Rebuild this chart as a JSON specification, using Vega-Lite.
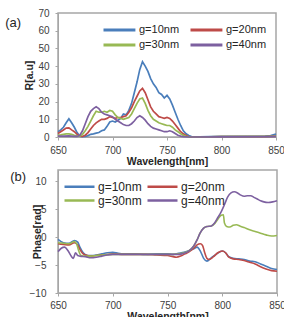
{
  "$schema": "https://vega.github.io/schema/vega-lite/v6.json",
  "background": "white",
  "padding": {"left": 4, "top": 7, "right": 0, "bottom": 0},
  "spacing": 1,
  "config": {
    "font": "Liberation Sans",
    "view": {"stroke": "#a6a6a6", "strokeWidth": 1.5},
    "axis": {
      "grid": false,
      "labelFont": "Liberation Sans",
      "labelFontSize": 10,
      "labelColor": "#404040",
      "titleFont": "Liberation Sans",
      "titleFontSize": 10.5,
      "titleFontWeight": "bold",
      "titleColor": "#262626",
      "domainColor": "#a6a6a6",
      "tickColor": "#a6a6a6",
      "tickSize": 3
    },
    "legend": {
      "labelFont": "Liberation Sans",
      "labelColor": "#262626",
      "direction": "horizontal",
      "padding": 0
    },
    "title": {"font": "Liberation Sans", "fontSize": 13, "fontWeight": "normal", "color": "#262626"}
  },
  "datasets": {
    "refl": [
      {"w": 650, "g": "g=10nm", "v": 3}, {"w": 652.5, "g": "g=10nm", "v": 4}, {"w": 655, "g": "g=10nm", "v": 5.5}, {"w": 657.5, "g": "g=10nm", "v": 8}, {"w": 660, "g": "g=10nm", "v": 10.3}, {"w": 662.5, "g": "g=10nm", "v": 8}, {"w": 665, "g": "g=10nm", "v": 5.5}, {"w": 667.5, "g": "g=10nm", "v": 2.5}, {"w": 670, "g": "g=10nm", "v": 0.5}, {"w": 672.5, "g": "g=10nm", "v": 0.2}, {"w": 675, "g": "g=10nm", "v": 0.3}, {"w": 677.5, "g": "g=10nm", "v": 0.8}, {"w": 680, "g": "g=10nm", "v": 1.5}, {"w": 682.5, "g": "g=10nm", "v": 1.8}, {"w": 685, "g": "g=10nm", "v": 2.2}, {"w": 687.5, "g": "g=10nm", "v": 2.5}, {"w": 690, "g": "g=10nm", "v": 3.5}, {"w": 692.5, "g": "g=10nm", "v": 4}, {"w": 695, "g": "g=10nm", "v": 6}, {"w": 697.5, "g": "g=10nm", "v": 8.5}, {"w": 700, "g": "g=10nm", "v": 9}, {"w": 702.5, "g": "g=10nm", "v": 8.5}, {"w": 705, "g": "g=10nm", "v": 9.5}, {"w": 707.5, "g": "g=10nm", "v": 10.5}, {"w": 710, "g": "g=10nm", "v": 13}, {"w": 712.5, "g": "g=10nm", "v": 12.5}, {"w": 715, "g": "g=10nm", "v": 15}, {"w": 717.5, "g": "g=10nm", "v": 19}, {"w": 720, "g": "g=10nm", "v": 25}, {"w": 722.5, "g": "g=10nm", "v": 31}, {"w": 725, "g": "g=10nm", "v": 38}, {"w": 727.5, "g": "g=10nm", "v": 42.5}, {"w": 730, "g": "g=10nm", "v": 40}, {"w": 732.5, "g": "g=10nm", "v": 37}, {"w": 735, "g": "g=10nm", "v": 33}, {"w": 737.5, "g": "g=10nm", "v": 30}, {"w": 740, "g": "g=10nm", "v": 28}, {"w": 742.5, "g": "g=10nm", "v": 25}, {"w": 745, "g": "g=10nm", "v": 24}, {"w": 747.5, "g": "g=10nm", "v": 22}, {"w": 750, "g": "g=10nm", "v": 23.5}, {"w": 752.5, "g": "g=10nm", "v": 21.5}, {"w": 755, "g": "g=10nm", "v": 18}, {"w": 757.5, "g": "g=10nm", "v": 14}, {"w": 760, "g": "g=10nm", "v": 10}, {"w": 762.5, "g": "g=10nm", "v": 6.5}, {"w": 765, "g": "g=10nm", "v": 3.5}, {"w": 767.5, "g": "g=10nm", "v": 1.8}, {"w": 770, "g": "g=10nm", "v": 0.8}, {"w": 772.5, "g": "g=10nm", "v": 0.3}, {"w": 775, "g": "g=10nm", "v": 0.1}, {"w": 780, "g": "g=10nm", "v": 0.1}, {"w": 800, "g": "g=10nm", "v": 0.4}, {"w": 820, "g": "g=10nm", "v": 0.3}, {"w": 840, "g": "g=10nm", "v": 0.5}, {"w": 845, "g": "g=10nm", "v": 0.8}, {"w": 850, "g": "g=10nm", "v": 1.6},
      {"w": 650, "g": "g=20nm", "v": 2}, {"w": 652.5, "g": "g=20nm", "v": 3}, {"w": 655, "g": "g=20nm", "v": 4}, {"w": 657.5, "g": "g=20nm", "v": 5}, {"w": 660, "g": "g=20nm", "v": 5.2}, {"w": 662.5, "g": "g=20nm", "v": 4}, {"w": 665, "g": "g=20nm", "v": 3}, {"w": 667.5, "g": "g=20nm", "v": 1.5}, {"w": 670, "g": "g=20nm", "v": 0.5}, {"w": 672.5, "g": "g=20nm", "v": 0.3}, {"w": 675, "g": "g=20nm", "v": 1}, {"w": 677.5, "g": "g=20nm", "v": 2.5}, {"w": 680, "g": "g=20nm", "v": 4.5}, {"w": 682.5, "g": "g=20nm", "v": 6.5}, {"w": 685, "g": "g=20nm", "v": 8}, {"w": 687.5, "g": "g=20nm", "v": 9}, {"w": 690, "g": "g=20nm", "v": 10}, {"w": 692.5, "g": "g=20nm", "v": 10}, {"w": 695, "g": "g=20nm", "v": 10.5}, {"w": 697.5, "g": "g=20nm", "v": 11.5}, {"w": 700, "g": "g=20nm", "v": 11}, {"w": 702.5, "g": "g=20nm", "v": 10.5}, {"w": 705, "g": "g=20nm", "v": 11}, {"w": 707.5, "g": "g=20nm", "v": 11}, {"w": 710, "g": "g=20nm", "v": 11.5}, {"w": 712.5, "g": "g=20nm", "v": 12}, {"w": 715, "g": "g=20nm", "v": 14}, {"w": 717.5, "g": "g=20nm", "v": 16.5}, {"w": 720, "g": "g=20nm", "v": 20}, {"w": 722.5, "g": "g=20nm", "v": 23}, {"w": 725, "g": "g=20nm", "v": 26}, {"w": 727.5, "g": "g=20nm", "v": 27.5}, {"w": 730, "g": "g=20nm", "v": 25}, {"w": 732.5, "g": "g=20nm", "v": 21}, {"w": 735, "g": "g=20nm", "v": 17}, {"w": 737.5, "g": "g=20nm", "v": 14.5}, {"w": 740, "g": "g=20nm", "v": 13}, {"w": 742.5, "g": "g=20nm", "v": 11.5}, {"w": 745, "g": "g=20nm", "v": 11}, {"w": 747.5, "g": "g=20nm", "v": 10.5}, {"w": 750, "g": "g=20nm", "v": 11}, {"w": 752.5, "g": "g=20nm", "v": 10.5}, {"w": 755, "g": "g=20nm", "v": 9}, {"w": 757.5, "g": "g=20nm", "v": 7}, {"w": 760, "g": "g=20nm", "v": 5}, {"w": 762.5, "g": "g=20nm", "v": 3}, {"w": 765, "g": "g=20nm", "v": 1.8}, {"w": 767.5, "g": "g=20nm", "v": 0.8}, {"w": 770, "g": "g=20nm", "v": 0.3}, {"w": 772.5, "g": "g=20nm", "v": 0.1}, {"w": 775, "g": "g=20nm", "v": 0}, {"w": 780, "g": "g=20nm", "v": 0}, {"w": 800, "g": "g=20nm", "v": 0.2}, {"w": 820, "g": "g=20nm", "v": 0.2}, {"w": 840, "g": "g=20nm", "v": 0.2}, {"w": 850, "g": "g=20nm", "v": 0.5},
      {"w": 650, "g": "g=30nm", "v": 1}, {"w": 652.5, "g": "g=30nm", "v": 1.2}, {"w": 655, "g": "g=30nm", "v": 1.5}, {"w": 657.5, "g": "g=30nm", "v": 1.8}, {"w": 660, "g": "g=30nm", "v": 1.8}, {"w": 662.5, "g": "g=30nm", "v": 1.5}, {"w": 665, "g": "g=30nm", "v": 1}, {"w": 667.5, "g": "g=30nm", "v": 0.6}, {"w": 670, "g": "g=30nm", "v": 0.5}, {"w": 672.5, "g": "g=30nm", "v": 1.5}, {"w": 675, "g": "g=30nm", "v": 3.5}, {"w": 677.5, "g": "g=30nm", "v": 6}, {"w": 680, "g": "g=30nm", "v": 9}, {"w": 682.5, "g": "g=30nm", "v": 12}, {"w": 685, "g": "g=30nm", "v": 14.5}, {"w": 687.5, "g": "g=30nm", "v": 14}, {"w": 690, "g": "g=30nm", "v": 14}, {"w": 692.5, "g": "g=30nm", "v": 14.5}, {"w": 695, "g": "g=30nm", "v": 14}, {"w": 697.5, "g": "g=30nm", "v": 15}, {"w": 700, "g": "g=30nm", "v": 14.5}, {"w": 702.5, "g": "g=30nm", "v": 12.5}, {"w": 705, "g": "g=30nm", "v": 11}, {"w": 707.5, "g": "g=30nm", "v": 10.5}, {"w": 710, "g": "g=30nm", "v": 10}, {"w": 712.5, "g": "g=30nm", "v": 10.5}, {"w": 715, "g": "g=30nm", "v": 11}, {"w": 717.5, "g": "g=30nm", "v": 13}, {"w": 720, "g": "g=30nm", "v": 16}, {"w": 722.5, "g": "g=30nm", "v": 19}, {"w": 725, "g": "g=30nm", "v": 21.5}, {"w": 727.5, "g": "g=30nm", "v": 22}, {"w": 730, "g": "g=30nm", "v": 19}, {"w": 732.5, "g": "g=30nm", "v": 15}, {"w": 735, "g": "g=30nm", "v": 12}, {"w": 737.5, "g": "g=30nm", "v": 10}, {"w": 740, "g": "g=30nm", "v": 9}, {"w": 742.5, "g": "g=30nm", "v": 8}, {"w": 745, "g": "g=30nm", "v": 7.5}, {"w": 747.5, "g": "g=30nm", "v": 7}, {"w": 750, "g": "g=30nm", "v": 6.5}, {"w": 752.5, "g": "g=30nm", "v": 6.5}, {"w": 755, "g": "g=30nm", "v": 5.5}, {"w": 757.5, "g": "g=30nm", "v": 4}, {"w": 760, "g": "g=30nm", "v": 3}, {"w": 762.5, "g": "g=30nm", "v": 1.8}, {"w": 765, "g": "g=30nm", "v": 1}, {"w": 767.5, "g": "g=30nm", "v": 0.4}, {"w": 770, "g": "g=30nm", "v": 0.1}, {"w": 775, "g": "g=30nm", "v": 0}, {"w": 800, "g": "g=30nm", "v": 0.2}, {"w": 850, "g": "g=30nm", "v": 0.3},
      {"w": 650, "g": "g=40nm", "v": 0.5}, {"w": 655, "g": "g=40nm", "v": 0.5}, {"w": 660, "g": "g=40nm", "v": 0.6}, {"w": 665, "g": "g=40nm", "v": 0.3}, {"w": 667.5, "g": "g=40nm", "v": 0.3}, {"w": 670, "g": "g=40nm", "v": 1}, {"w": 672.5, "g": "g=40nm", "v": 3.5}, {"w": 675, "g": "g=40nm", "v": 7.5}, {"w": 677.5, "g": "g=40nm", "v": 11.5}, {"w": 680, "g": "g=40nm", "v": 14.5}, {"w": 682.5, "g": "g=40nm", "v": 16}, {"w": 685, "g": "g=40nm", "v": 17}, {"w": 687.5, "g": "g=40nm", "v": 16}, {"w": 690, "g": "g=40nm", "v": 14}, {"w": 692.5, "g": "g=40nm", "v": 13}, {"w": 695, "g": "g=40nm", "v": 12.5}, {"w": 697.5, "g": "g=40nm", "v": 12}, {"w": 700, "g": "g=40nm", "v": 11.5}, {"w": 702.5, "g": "g=40nm", "v": 10}, {"w": 705, "g": "g=40nm", "v": 9}, {"w": 707.5, "g": "g=40nm", "v": 8}, {"w": 710, "g": "g=40nm", "v": 7}, {"w": 712.5, "g": "g=40nm", "v": 6.5}, {"w": 715, "g": "g=40nm", "v": 6.5}, {"w": 717.5, "g": "g=40nm", "v": 7.5}, {"w": 720, "g": "g=40nm", "v": 9}, {"w": 722.5, "g": "g=40nm", "v": 11}, {"w": 725, "g": "g=40nm", "v": 12}, {"w": 727.5, "g": "g=40nm", "v": 11}, {"w": 730, "g": "g=40nm", "v": 9.5}, {"w": 732.5, "g": "g=40nm", "v": 7.5}, {"w": 735, "g": "g=40nm", "v": 6}, {"w": 737.5, "g": "g=40nm", "v": 5}, {"w": 740, "g": "g=40nm", "v": 4.5}, {"w": 742.5, "g": "g=40nm", "v": 4}, {"w": 745, "g": "g=40nm", "v": 3.5}, {"w": 747.5, "g": "g=40nm", "v": 3}, {"w": 750, "g": "g=40nm", "v": 3}, {"w": 752.5, "g": "g=40nm", "v": 3.5}, {"w": 755, "g": "g=40nm", "v": 3}, {"w": 757.5, "g": "g=40nm", "v": 2}, {"w": 760, "g": "g=40nm", "v": 1}, {"w": 762.5, "g": "g=40nm", "v": 0.5}, {"w": 765, "g": "g=40nm", "v": 0.2}, {"w": 770, "g": "g=40nm", "v": 0}, {"w": 800, "g": "g=40nm", "v": 0.1}, {"w": 850, "g": "g=40nm", "v": 0.2}
    ],
    "phase": [
      {"w": 650, "g": "g=10nm", "v": -0.4}, {"w": 655, "g": "g=10nm", "v": -1.0}, {"w": 660, "g": "g=10nm", "v": -1.1}, {"w": 665, "g": "g=10nm", "v": -0.6}, {"w": 668, "g": "g=10nm", "v": -0.9}, {"w": 670, "g": "g=10nm", "v": -1.8}, {"w": 673, "g": "g=10nm", "v": -2.8}, {"w": 677, "g": "g=10nm", "v": -3.3}, {"w": 680, "g": "g=10nm", "v": -3.3}, {"w": 685, "g": "g=10nm", "v": -3.2}, {"w": 690, "g": "g=10nm", "v": -3.0}, {"w": 695, "g": "g=10nm", "v": -2.8}, {"w": 700, "g": "g=10nm", "v": -2.7}, {"w": 705, "g": "g=10nm", "v": -2.9}, {"w": 710, "g": "g=10nm", "v": -3.0}, {"w": 720, "g": "g=10nm", "v": -3.0}, {"w": 730, "g": "g=10nm", "v": -3.1}, {"w": 740, "g": "g=10nm", "v": -3.0}, {"w": 750, "g": "g=10nm", "v": -3.0}, {"w": 755, "g": "g=10nm", "v": -3.1}, {"w": 760, "g": "g=10nm", "v": -2.9}, {"w": 765, "g": "g=10nm", "v": -2.7}, {"w": 770, "g": "g=10nm", "v": -2.4}, {"w": 774, "g": "g=10nm", "v": -2.1}, {"w": 777, "g": "g=10nm", "v": -1.8}, {"w": 780, "g": "g=10nm", "v": -2.5}, {"w": 783, "g": "g=10nm", "v": -3.8}, {"w": 786, "g": "g=10nm", "v": -4.3}, {"w": 790, "g": "g=10nm", "v": -3.7}, {"w": 795, "g": "g=10nm", "v": -3.0}, {"w": 800, "g": "g=10nm", "v": -2.5}, {"w": 803, "g": "g=10nm", "v": -2.8}, {"w": 806, "g": "g=10nm", "v": -3.5}, {"w": 810, "g": "g=10nm", "v": -3.8}, {"w": 815, "g": "g=10nm", "v": -3.9}, {"w": 820, "g": "g=10nm", "v": -4.0}, {"w": 825, "g": "g=10nm", "v": -4.3}, {"w": 830, "g": "g=10nm", "v": -4.4}, {"w": 835, "g": "g=10nm", "v": -4.8}, {"w": 840, "g": "g=10nm", "v": -5.2}, {"w": 845, "g": "g=10nm", "v": -5.6}, {"w": 850, "g": "g=10nm", "v": -5.8},
      {"w": 650, "g": "g=20nm", "v": -1.2}, {"w": 655, "g": "g=20nm", "v": -1.3}, {"w": 660, "g": "g=20nm", "v": -1.4}, {"w": 665, "g": "g=20nm", "v": -1.0}, {"w": 668, "g": "g=20nm", "v": -1.4}, {"w": 670, "g": "g=20nm", "v": -2.2}, {"w": 673, "g": "g=20nm", "v": -3.0}, {"w": 677, "g": "g=20nm", "v": -3.3}, {"w": 680, "g": "g=20nm", "v": -3.4}, {"w": 685, "g": "g=20nm", "v": -3.3}, {"w": 690, "g": "g=20nm", "v": -3.2}, {"w": 695, "g": "g=20nm", "v": -3.1}, {"w": 700, "g": "g=20nm", "v": -3.0}, {"w": 710, "g": "g=20nm", "v": -3.1}, {"w": 720, "g": "g=20nm", "v": -3.1}, {"w": 730, "g": "g=20nm", "v": -3.1}, {"w": 740, "g": "g=20nm", "v": -3.2}, {"w": 750, "g": "g=20nm", "v": -3.3}, {"w": 755, "g": "g=20nm", "v": -3.5}, {"w": 758, "g": "g=20nm", "v": -3.6}, {"w": 762, "g": "g=20nm", "v": -3.4}, {"w": 766, "g": "g=20nm", "v": -3.0}, {"w": 770, "g": "g=20nm", "v": -2.6}, {"w": 774, "g": "g=20nm", "v": -2.0}, {"w": 777, "g": "g=20nm", "v": -1.4}, {"w": 780, "g": "g=20nm", "v": -1.2}, {"w": 782, "g": "g=20nm", "v": -1.5}, {"w": 784, "g": "g=20nm", "v": -2.8}, {"w": 786, "g": "g=20nm", "v": -3.8}, {"w": 788, "g": "g=20nm", "v": -4.0}, {"w": 792, "g": "g=20nm", "v": -3.5}, {"w": 796, "g": "g=20nm", "v": -2.8}, {"w": 800, "g": "g=20nm", "v": -2.5}, {"w": 803, "g": "g=20nm", "v": -2.8}, {"w": 806, "g": "g=20nm", "v": -3.6}, {"w": 810, "g": "g=20nm", "v": -3.9}, {"w": 815, "g": "g=20nm", "v": -4.0}, {"w": 820, "g": "g=20nm", "v": -4.2}, {"w": 825, "g": "g=20nm", "v": -4.5}, {"w": 830, "g": "g=20nm", "v": -4.8}, {"w": 835, "g": "g=20nm", "v": -5.3}, {"w": 840, "g": "g=20nm", "v": -5.7}, {"w": 845, "g": "g=20nm", "v": -6.0}, {"w": 850, "g": "g=20nm", "v": -6.1},
      {"w": 650, "g": "g=30nm", "v": -1.0}, {"w": 655, "g": "g=30nm", "v": -1.1}, {"w": 660, "g": "g=30nm", "v": -1.2}, {"w": 665, "g": "g=30nm", "v": -0.8}, {"w": 667, "g": "g=30nm", "v": -1.2}, {"w": 669, "g": "g=30nm", "v": -2.5}, {"w": 671, "g": "g=30nm", "v": -3.3}, {"w": 675, "g": "g=30nm", "v": -3.4}, {"w": 680, "g": "g=30nm", "v": -3.4}, {"w": 685, "g": "g=30nm", "v": -3.3}, {"w": 690, "g": "g=30nm", "v": -3.2}, {"w": 700, "g": "g=30nm", "v": -3.1}, {"w": 710, "g": "g=30nm", "v": -3.1}, {"w": 720, "g": "g=30nm", "v": -3.1}, {"w": 730, "g": "g=30nm", "v": -3.1}, {"w": 740, "g": "g=30nm", "v": -3.1}, {"w": 750, "g": "g=30nm", "v": -3.1}, {"w": 760, "g": "g=30nm", "v": -3.0}, {"w": 765, "g": "g=30nm", "v": -2.8}, {"w": 770, "g": "g=30nm", "v": -2.4}, {"w": 774, "g": "g=30nm", "v": -1.6}, {"w": 777, "g": "g=30nm", "v": -0.5}, {"w": 780, "g": "g=30nm", "v": 0.8}, {"w": 783, "g": "g=30nm", "v": 1.6}, {"w": 786, "g": "g=30nm", "v": 1.9}, {"w": 790, "g": "g=30nm", "v": 2.0}, {"w": 793, "g": "g=30nm", "v": 2.4}, {"w": 796, "g": "g=30nm", "v": 3.2}, {"w": 799, "g": "g=30nm", "v": 3.9}, {"w": 801, "g": "g=30nm", "v": 4.0}, {"w": 802, "g": "g=30nm", "v": 2.5}, {"w": 804, "g": "g=30nm", "v": 1.9}, {"w": 807, "g": "g=30nm", "v": 1.8}, {"w": 810, "g": "g=30nm", "v": 2.1}, {"w": 813, "g": "g=30nm", "v": 2.2}, {"w": 816, "g": "g=30nm", "v": 2.0}, {"w": 820, "g": "g=30nm", "v": 1.7}, {"w": 825, "g": "g=30nm", "v": 1.3}, {"w": 830, "g": "g=30nm", "v": 1.0}, {"w": 835, "g": "g=30nm", "v": 0.7}, {"w": 840, "g": "g=30nm", "v": 0.4}, {"w": 845, "g": "g=30nm", "v": 0.2}, {"w": 850, "g": "g=30nm", "v": 0.3},
      {"w": 650, "g": "g=40nm", "v": -2.6}, {"w": 653, "g": "g=40nm", "v": -2.0}, {"w": 656, "g": "g=40nm", "v": -1.8}, {"w": 659, "g": "g=40nm", "v": -2.4}, {"w": 662, "g": "g=40nm", "v": -3.4}, {"w": 664, "g": "g=40nm", "v": -3.8}, {"w": 666, "g": "g=40nm", "v": -2.8}, {"w": 668, "g": "g=40nm", "v": -3.3}, {"w": 670, "g": "g=40nm", "v": -3.4}, {"w": 675, "g": "g=40nm", "v": -3.5}, {"w": 680, "g": "g=40nm", "v": -3.7}, {"w": 685, "g": "g=40nm", "v": -3.6}, {"w": 690, "g": "g=40nm", "v": -3.4}, {"w": 695, "g": "g=40nm", "v": -3.2}, {"w": 700, "g": "g=40nm", "v": -3.1}, {"w": 710, "g": "g=40nm", "v": -3.1}, {"w": 720, "g": "g=40nm", "v": -3.1}, {"w": 730, "g": "g=40nm", "v": -3.1}, {"w": 740, "g": "g=40nm", "v": -3.1}, {"w": 750, "g": "g=40nm", "v": -3.1}, {"w": 760, "g": "g=40nm", "v": -3.1}, {"w": 765, "g": "g=40nm", "v": -2.9}, {"w": 770, "g": "g=40nm", "v": -2.4}, {"w": 774, "g": "g=40nm", "v": -1.6}, {"w": 777, "g": "g=40nm", "v": -0.5}, {"w": 780, "g": "g=40nm", "v": 0.8}, {"w": 783, "g": "g=40nm", "v": 1.6}, {"w": 786, "g": "g=40nm", "v": 1.9}, {"w": 790, "g": "g=40nm", "v": 2.0}, {"w": 793, "g": "g=40nm", "v": 2.5}, {"w": 796, "g": "g=40nm", "v": 3.5}, {"w": 799, "g": "g=40nm", "v": 4.5}, {"w": 802, "g": "g=40nm", "v": 5.8}, {"w": 805, "g": "g=40nm", "v": 7.2}, {"w": 808, "g": "g=40nm", "v": 7.9}, {"w": 811, "g": "g=40nm", "v": 8.1}, {"w": 814, "g": "g=40nm", "v": 7.9}, {"w": 817, "g": "g=40nm", "v": 7.5}, {"w": 820, "g": "g=40nm", "v": 7.3}, {"w": 823, "g": "g=40nm", "v": 7.4}, {"w": 826, "g": "g=40nm", "v": 7.4}, {"w": 829, "g": "g=40nm", "v": 7.1}, {"w": 832, "g": "g=40nm", "v": 6.8}, {"w": 835, "g": "g=40nm", "v": 6.5}, {"w": 838, "g": "g=40nm", "v": 6.3}, {"w": 842, "g": "g=40nm", "v": 6.2}, {"w": 846, "g": "g=40nm", "v": 6.3}, {"w": 850, "g": "g=40nm", "v": 6.5}
    ]
  },
  "resolve": {"legend": {"color": "independent"}},
  "vconcat": [
    {
      "width": 218,
      "height": 124,
      "title": {"text": "(a)", "anchor": "end", "frame": "group", "orient": "left", "angle": 0, "align": "right", "baseline": "middle", "offset": -13, "dy": 10},
      "data": {"name": "refl"},
      "mark": {"type": "line", "strokeWidth": 1.7, "interpolate": "linear"},
      "encoding": {
        "x": {"field": "w", "type": "quantitative", "scale": {"domain": [650, 850], "nice": false},
          "axis": {"title": "Wavelength[nm]", "values": [650, 700, 750, 800, 850], "labelPadding": 5, "titlePadding": 1, "labelFlush": false}},
        "y": {"field": "v", "type": "quantitative", "scale": {"domain": [0, 70], "nice": false},
          "axis": {"title": "R[a.u]", "values": [0, 10, 20, 30, 40, 50, 60, 70], "labelPadding": 6, "titleX": -29, "titleBaseline": "middle", "titleAnchor": "middle"}},
        "color": {"field": "g", "type": "nominal", "title": null,
          "scale": {"domain": ["g=10nm", "g=20nm", "g=30nm", "g=40nm"], "range": ["#4a7ebb", "#be4b48", "#98b954", "#7d60a0"]},
          "legend": {"orient": "none", "legendX": 44, "legendY": 10, "columns": 2, "columnPadding": 4, "rowPadding": 2, "labelFontSize": 11,
            "symbolType": "M-1,0H4.8", "symbolSize": 121, "symbolStrokeWidth": 3, "symbolFillColor": "transparent", "labelOffset": 23}}
      }
    },
    {
      "width": 219,
      "height": 123,
      "title": {"text": "(b)", "anchor": "end", "frame": "group", "orient": "left", "angle": 0, "align": "right", "baseline": "middle", "offset": -13, "dy": 7},
      "data": {"name": "phase"},
      "mark": {"type": "line", "strokeWidth": 1.6, "interpolate": "monotone"},
      "encoding": {
        "x": {"field": "w", "type": "quantitative", "scale": {"domain": [650, 850], "nice": false},
          "axis": {"title": "Wavelength[nm]", "values": [650, 700, 750, 800, 850], "labelPadding": 4, "titlePadding": 1, "labelFlush": false}},
        "y": {"field": "v", "type": "quantitative", "scale": {"domain": [-10, 12], "nice": false},
          "axis": {"title": "Phase[rad]", "values": [-10, -5, 0, 5, 10], "labelPadding": 9, "titleX": -21, "titleBaseline": "middle", "titleAnchor": "middle"}},
        "color": {"field": "g", "type": "nominal", "title": null,
          "scale": {"domain": ["g=10nm", "g=20nm", "g=30nm", "g=40nm"], "range": ["#4a7ebb", "#be4b48", "#98b954", "#7d60a0"]},
          "legend": {"orient": "none", "legendX": 5, "legendY": 9, "columns": 2, "columnPadding": 0, "rowPadding": -2, "labelFontSize": 12,
            "symbolType": "M-1,0H4", "symbolSize": 144, "symbolStrokeWidth": 2.5, "symbolFillColor": "transparent", "labelOffset": 20}}
      }
    }
  ]
}
